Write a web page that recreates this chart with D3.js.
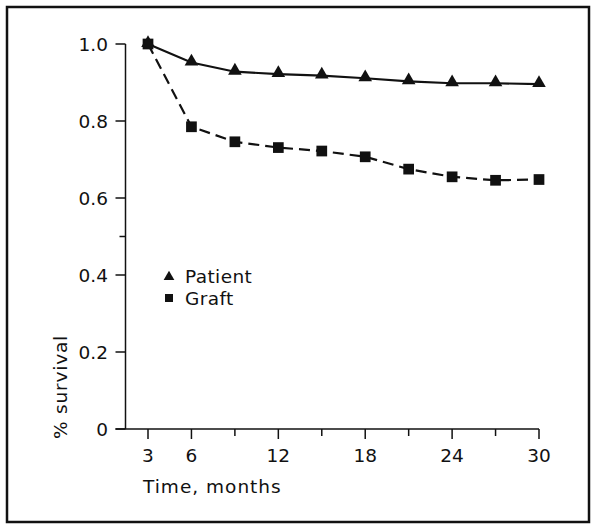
<!DOCTYPE html>
<html><head><meta charset="utf-8">
<script src="https://cdn.jsdelivr.net/npm/d3@7"></script>
<style>
html,body{margin:0;padding:0;background:#fff;}
svg text{font-family:"DejaVu Sans",sans-serif;fill:#111;}
</style></head>
<body><svg id="c" width="600" height="531"></svg>
<script>
const months = [3, 6, 9, 12, 15, 18, 21, 24, 27, 30];
const patient = [1.0, 0.952, 0.928, 0.922, 0.918, 0.911, 0.903, 0.898, 0.898, 0.896];
const graft = [1.0, 0.785, 0.746, 0.731, 0.722, 0.707, 0.675, 0.655, 0.646, 0.648];
const xTickLabels = [3, 6, 12, 18, 24, 30];
const xMinorTicks = [9, 15, 21, 27];
const yTickValues = [0, 0.2, 0.4, 0.6, 0.8, 1.0];
const yMinorTicks = [0.5];
const legendLabels = ["Patient", "Graft"];

const svg = d3.select("#c");
const ink = "#111";

svg.append("rect").attr("x", 7).attr("y", 7).attr("width", 582).attr("height", 515)
  .attr("fill", "none").attr("stroke", ink).attr("stroke-width", 2.5);

const x = d3.scaleLinear().domain([3, 30]).range([148, 539]);
const y = d3.scaleLinear().domain([0, 1]).range([429, 44]);
const x0 = 125.5;

// y axis
svg.append("line").attr("x1", x0).attr("x2", x0).attr("y1", y(1)).attr("y2", y(0))
  .attr("stroke", ink).attr("stroke-width", 1.5);
svg.selectAll(".ytick").data(yTickValues).join("line")
  .attr("x1", x0 - 10).attr("x2", x0).attr("y1", d => y(d)).attr("y2", d => y(d))
  .attr("stroke", ink).attr("stroke-width", 1.5);
svg.selectAll(".yminor").data(yMinorTicks).join("line")
  .attr("x1", x0 - 6).attr("x2", x0).attr("y1", d => y(d)).attr("y2", d => y(d))
  .attr("stroke", ink).attr("stroke-width", 1.5);
svg.selectAll(".ylab").data(yTickValues).join("text")
  .attr("x", 108).attr("y", d => y(d)).attr("dy", "0.36em")
  .attr("text-anchor", "end").attr("font-size", 18.5)
  .text(d => d === 0 ? "0" : d.toFixed(1));

// x axis
svg.append("line").attr("x1", x0 - 10).attr("x2", x(30)).attr("y1", y(0)).attr("y2", y(0))
  .attr("stroke", ink).attr("stroke-width", 1.5);
svg.selectAll(".xtick").data(xTickLabels).join("line")
  .attr("x1", d => x(d)).attr("x2", d => x(d)).attr("y1", y(0)).attr("y2", y(0) + 10)
  .attr("stroke", ink).attr("stroke-width", 1.5);
svg.selectAll(".xminor").data(xMinorTicks).join("line")
  .attr("x1", d => x(d)).attr("x2", d => x(d)).attr("y1", y(0)).attr("y2", y(0) + 7)
  .attr("stroke", ink).attr("stroke-width", 1.5);
svg.selectAll(".xlab").data(xTickLabels).join("text")
  .attr("x", d => x(d)).attr("y", 462)
  .attr("text-anchor", "middle").attr("font-size", 18.5)
  .text(d => d);

svg.append("text").attr("x", 143).attr("y", 493).attr("font-size", 18.5)
  .attr("letter-spacing", 1).text("Time, months");
svg.append("text").attr("transform", "translate(67,387) rotate(-90)")
  .attr("text-anchor", "middle").attr("font-size", 18.5).attr("letter-spacing", 0.8)
  .text("% survival");

// lines
const line = d3.line().x((d, i) => x(months[i])).y(d => y(d));
svg.append("path").datum(graft).attr("d", line).attr("fill", "none")
  .attr("stroke", ink).attr("stroke-width", 2.2).attr("stroke-dasharray", "11,6");
svg.append("path").datum(patient).attr("d", line).attr("fill", "none")
  .attr("stroke", ink).attr("stroke-width", 2.2);

const tri = d3.symbol().type(d3.symbolTriangle).size(80);
const sq = d3.symbol().type(d3.symbolSquare).size(115);
svg.selectAll(".sq").data(graft).join("path")
  .attr("transform", (d, i) => `translate(${x(months[i])},${y(d)})`)
  .attr("d", sq).attr("fill", ink);
svg.selectAll(".tri").data(patient).join("path")
  .attr("transform", (d, i) => `translate(${x(months[i])},${y(d) - 1})`)
  .attr("d", tri).attr("fill", ink);

// legend
const lg = svg.append("g");
lg.append("path").attr("transform", "translate(169,277)").attr("d", d3.symbol().type(d3.symbolTriangle).size(50)).attr("fill", ink);
lg.append("path").attr("transform", "translate(169,298)").attr("d", d3.symbol().type(d3.symbolSquare).size(64)).attr("fill", ink);
lg.selectAll("text").data(legendLabels).join("text")
  .attr("x", 185).attr("y", (d, i) => 283 + i * 22).attr("font-size", 18.5)
  .attr("letter-spacing", 0.4).text(d => d);
</script></body></html>
